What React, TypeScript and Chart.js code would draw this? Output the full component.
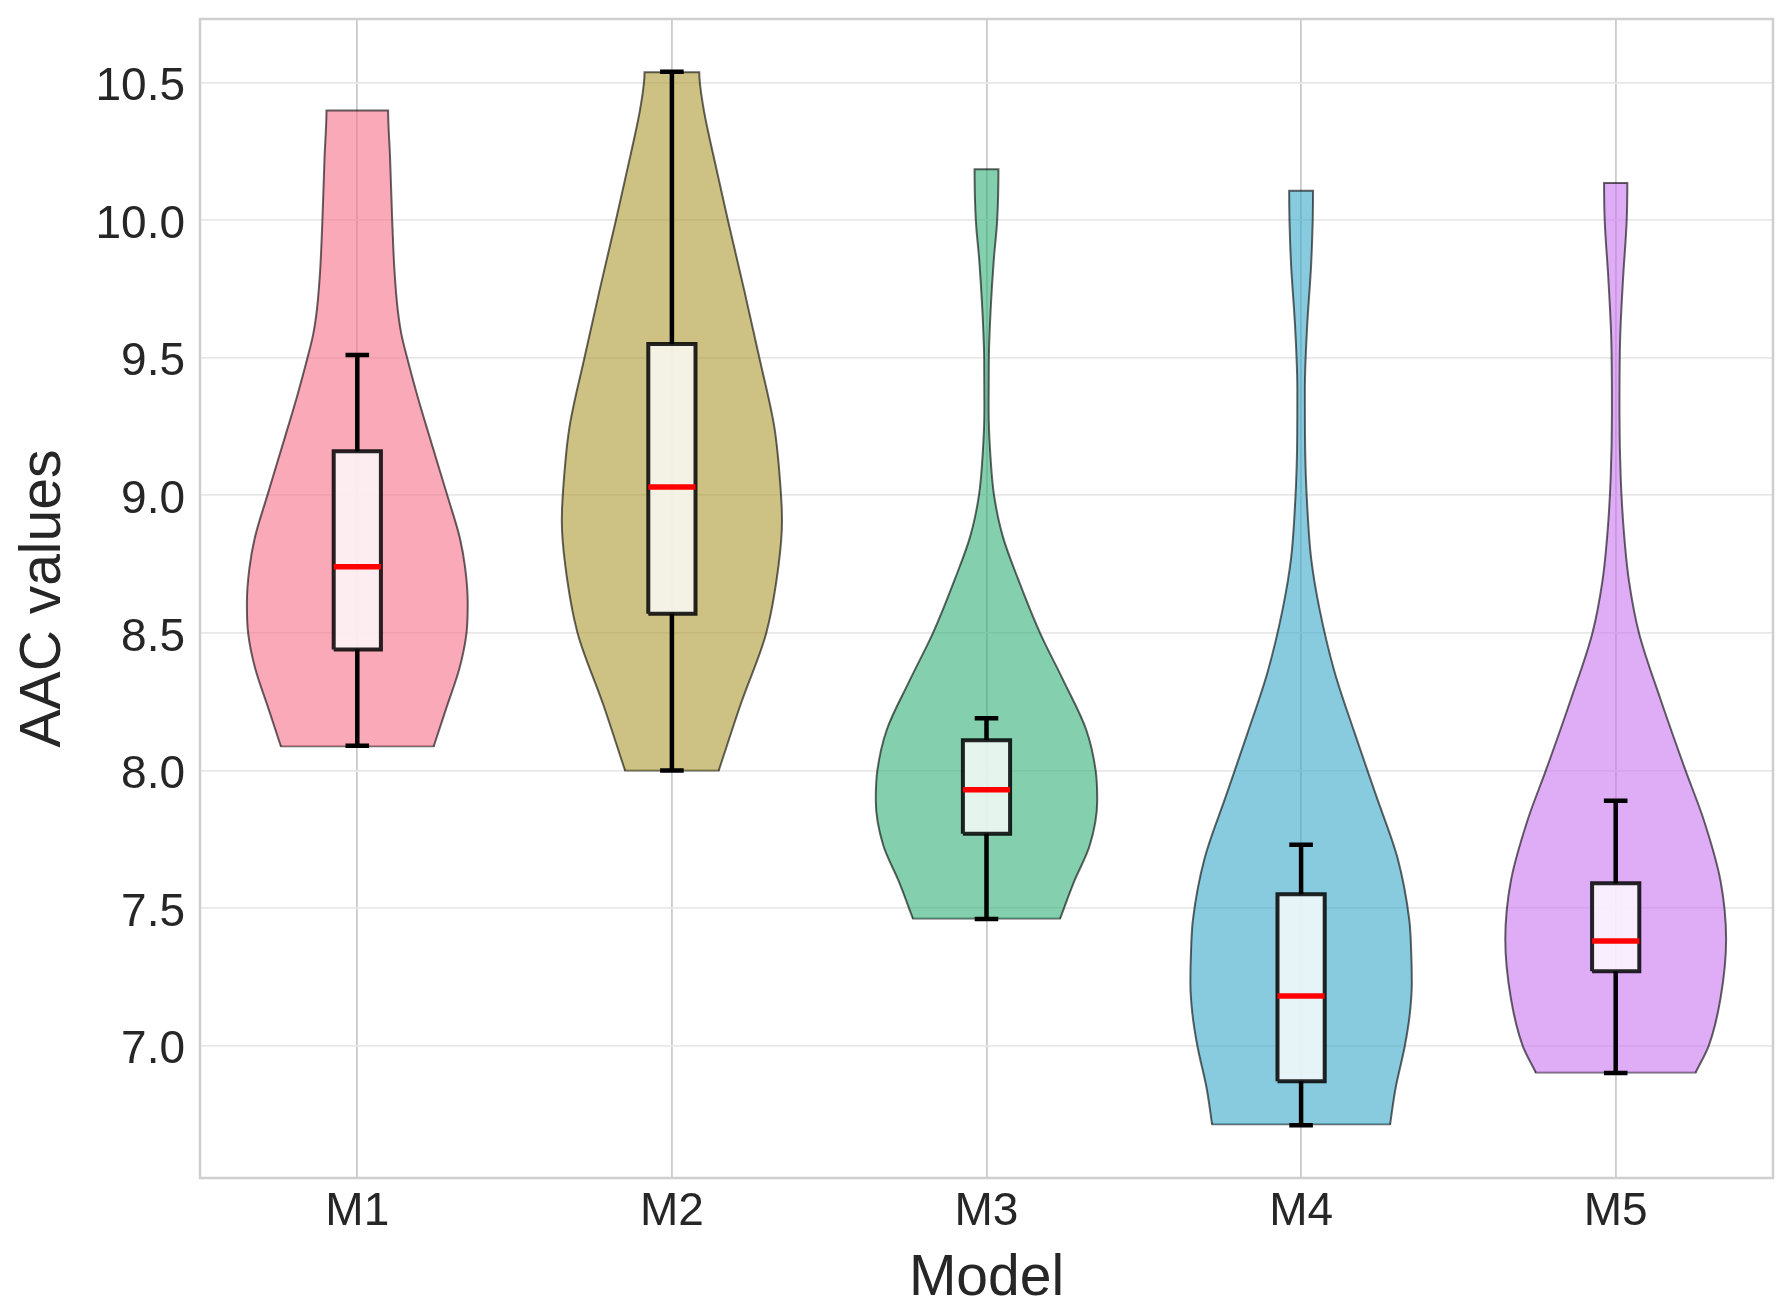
import { useEffect, useRef } from "react"
import { Chart, registerables } from "chart.js"

Chart.register(...registerables)

const models = ["M1", "M2", "M3", "M4", "M5"]

// box plot summary per model
const whiskerLow = [8.09, 8.0, 7.46, 6.71, 6.9]
const q1 = [8.44, 8.57, 7.77, 6.87, 7.27]
const medians = [8.74, 9.03, 7.93, 7.18, 7.38]
const q3 = [9.16, 9.55, 8.11, 7.55, 7.59]
const whiskerHigh = [9.51, 10.54, 8.19, 7.73, 7.89]

// violin outlines: [value, half width]
const m1Violin: [number, number][] = [
  [8.088, 0.243], [8.23, 0.284], [8.372, 0.325], [8.498, 0.347], [8.609, 0.351],
  [8.735, 0.343], [8.845, 0.326], [9.0, 0.286], [9.208, 0.231], [9.366, 0.19],
  [9.497, 0.159], [9.587, 0.14], [9.68, 0.128], [9.82, 0.118], [10.0, 0.111],
  [10.233, 0.104], [10.399, 0.098],
]
const m2Violin: [number, number][] = [
  [8.0, 0.149], [8.245, 0.22], [8.5, 0.3], [8.745, 0.339], [8.91, 0.35],
  [9.0, 0.347], [9.245, 0.326], [9.5, 0.278], [9.745, 0.23], [10.0, 0.178],
  [10.245, 0.13], [10.41, 0.1], [10.538, 0.087],
]
const m3Violin: [number, number][] = [
  [7.462, 0.234], [7.6, 0.28], [7.727, 0.328], [7.89, 0.352], [8.0, 0.347],
  [8.148, 0.317], [8.33, 0.243], [8.5, 0.17], [8.697, 0.1], [8.85, 0.052],
  [9.0, 0.024], [9.152, 0.012], [9.31, 0.0068], [9.5, 0.0075], [9.67, 0.013],
  [9.853, 0.023], [10.0, 0.034], [10.185, 0.038],
]
const m4Violin: [number, number][] = [
  [6.714, 0.283], [6.843, 0.3], [7.0, 0.33], [7.12, 0.346], [7.23, 0.352],
  [7.34, 0.35], [7.456, 0.344], [7.68, 0.307], [7.91, 0.238], [8.14, 0.169],
  [8.36, 0.106], [8.59, 0.058], [8.77, 0.032], [8.93, 0.021], [9.16, 0.013],
  [9.385, 0.012], [9.61, 0.019], [9.84, 0.032], [10.0, 0.037], [10.107, 0.038],
]
const m5Violin: [number, number][] = [
  [6.902, 0.254], [7.0, 0.296], [7.17, 0.333], [7.386, 0.351], [7.6, 0.333],
  [7.82, 0.28], [8.0, 0.222], [8.257, 0.143], [8.5, 0.074], [8.69, 0.042],
  [8.867, 0.026], [9.063, 0.016], [9.3, 0.012], [9.564, 0.014], [9.78, 0.023],
  [10.0, 0.035], [10.135, 0.037],
]
const violins = [m1Violin, m2Violin, m3Violin, m4Violin, m5Violin]

const violinColors = [
  "rgba(245, 112, 135, 0.6)",
  "rgba(172, 153, 48, 0.6)",
  "rgba(48, 175, 120, 0.6)",
  "rgba(56, 167, 200, 0.6)",
  "rgba(202, 118, 240, 0.6)",
]

const FONT = "'Liberation Sans', Arial, sans-serif"
const TEXT = "#262626"
const VIOLIN_EDGE = "rgba(0, 0, 0, 0.6)"
const BOX_HALF = 0.075
const CAP_HALF = 0.0375

type Pt = { x: number | null; y: number | null }

// outline: up the right side, across the top, down the left side;
// the fill closes the path along the flat bottom
function violinPath(pos: number, profile: [number, number][]): Pt[] {
  const right = profile.map(([v, w]) => ({ x: pos + w, y: v }))
  const left = profile.slice().reverse().map(([v, w]) => ({ x: pos - w, y: v }))
  return [...right, ...left]
}

const framePlugin = {
  id: "frame",
  afterDatasetsDraw(chart: Chart) {
    const { ctx, chartArea: a } = chart
    ctx.save()
    ctx.strokeStyle = "#cfcfcf"
    ctx.lineWidth = 2.5
    ctx.strokeRect(a.left, a.top, a.right - a.left, a.bottom - a.top)
    ctx.restore()
  },
}

function ViolinChart() {
  const chartRef = useRef<HTMLCanvasElement>(null)
  const chartInstance = useRef<Chart | null>(null)

  useEffect(() => {
    if (!chartRef.current) return
    if (chartInstance.current) chartInstance.current.destroy()
    const ctx = chartRef.current.getContext("2d")
    if (!ctx) return

    const gap = { x: null, y: null }
    const datasets: any[] = []
    models.forEach((_, i) => {
      const pos = i + 1
      const [v0, w0] = violins[i][0]
      datasets.push({
        data: violinPath(pos, violins[i]),
        indexAxis: "y",
        backgroundColor: violinColors[i],
        borderColor: VIOLIN_EDGE,
        borderWidth: 2,
        fill: "shape",
        cubicInterpolationMode: "monotone",
        order: 4,
      })
      // flat bottom edge of the violin
      datasets.push({
        data: [
          { x: pos - w0, y: v0 },
          { x: pos + w0, y: v0 },
        ],
        borderColor: VIOLIN_EDGE,
        borderWidth: 2,
        borderCapStyle: "round",
        fill: false,
        tension: 0,
        order: 4,
      })
      datasets.push({
        data: [
          { x: pos - BOX_HALF, y: q1[i] },
          { x: pos + BOX_HALF, y: q1[i] },
          { x: pos + BOX_HALF, y: q3[i] },
          { x: pos - BOX_HALF, y: q3[i] },
          { x: pos - BOX_HALF, y: q1[i] },
        ],
        backgroundColor: "rgba(255, 255, 255, 0.8)",
        borderColor: "rgba(0, 0, 0, 0.85)",
        borderWidth: 4,
        borderJoinStyle: "miter",
        fill: "shape",
        tension: 0,
        order: 3,
      })
      datasets.push({
        data: [
          { x: pos, y: whiskerLow[i] },
          { x: pos, y: q1[i] },
          gap,
          { x: pos, y: q3[i] },
          { x: pos, y: whiskerHigh[i] },
          gap,
          { x: pos - CAP_HALF, y: whiskerLow[i] },
          { x: pos + CAP_HALF, y: whiskerLow[i] },
          gap,
          { x: pos - CAP_HALF, y: whiskerHigh[i] },
          { x: pos + CAP_HALF, y: whiskerHigh[i] },
        ],
        borderColor: "#000000",
        borderWidth: 4.5,
        borderCapStyle: "butt",
        fill: false,
        spanGaps: false,
        tension: 0,
        order: 2,
      })
      datasets.push({
        data: [
          { x: pos - BOX_HALF, y: medians[i] },
          { x: pos + BOX_HALF, y: medians[i] },
        ],
        borderColor: "#ff0000",
        borderWidth: 5.5,
        borderCapStyle: "butt",
        fill: false,
        tension: 0,
        order: 1,
      })
    })

    chartInstance.current = new Chart(ctx, {
      type: "line",
      data: { datasets },
      plugins: [framePlugin],
      options: {
        responsive: false,
        animation: false,
        events: [],
        elements: { point: { radius: 0 } },
        layout: { padding: { top: 19, right: 17, bottom: 0, left: 0 } },
        plugins: {
          legend: { display: false },
          tooltip: { enabled: false },
        },
        scales: {
          x: {
            type: "linear",
            min: 0.5,
            max: 5.5,
            afterBuildTicks: (scale: any) => {
              scale.ticks = models.map((_, i) => ({ value: i + 1 }))
            },
            afterFit: (scale: any) => {
              scale.height = 135
              scale.paddingLeft = 0
              scale.paddingRight = 0
            },
            grid: { color: "#cbcbcb", lineWidth: 1.8, drawTicks: false },
            border: { display: false },
            ticks: {
              autoSkip: false,
              maxRotation: 0,
              padding: 7,
              color: TEXT,
              font: { family: FONT, size: 46 },
              callback: (v: any) => models[Math.round(Number(v)) - 1] ?? "",
            },
            title: {
              display: true,
              text: "Model",
              color: TEXT,
              font: { family: FONT, size: 57 },
              padding: { top: 0, bottom: 0 },
            },
          },
          y: {
            type: "linear",
            min: 6.5185,
            max: 10.7315,
            afterFit: (scale: any) => {
              scale.width = 200
              scale.paddingTop = 0
              scale.paddingBottom = 0
            },
            grid: { color: "#e8e8e8", lineWidth: 1.8, drawTicks: false },
            border: { display: false },
            ticks: {
              stepSize: 0.5,
              includeBounds: false,
              padding: 15,
              labelOffset: 5,
              color: TEXT,
              font: { family: FONT, size: 46 },
              callback: (v: any) => Number(v).toFixed(1),
            },
            title: {
              display: true,
              text: "AAC values",
              color: TEXT,
              font: { family: FONT, size: 57 },
              padding: { top: 10, bottom: 0 },
            },
          },
        },
      },
    })

    return () => {
      if (chartInstance.current) {
        chartInstance.current.destroy()
        chartInstance.current = null
      }
    }
  }, [])

  return (
    <div style={{ position: "absolute", left: 0, top: 0, width: 1790, height: 1313, background: "#ffffff" }}>
      <canvas ref={chartRef} width={1790} height={1313}></canvas>
    </div>
  )
}

export default function App() {
  return <ViolinChart />
}
